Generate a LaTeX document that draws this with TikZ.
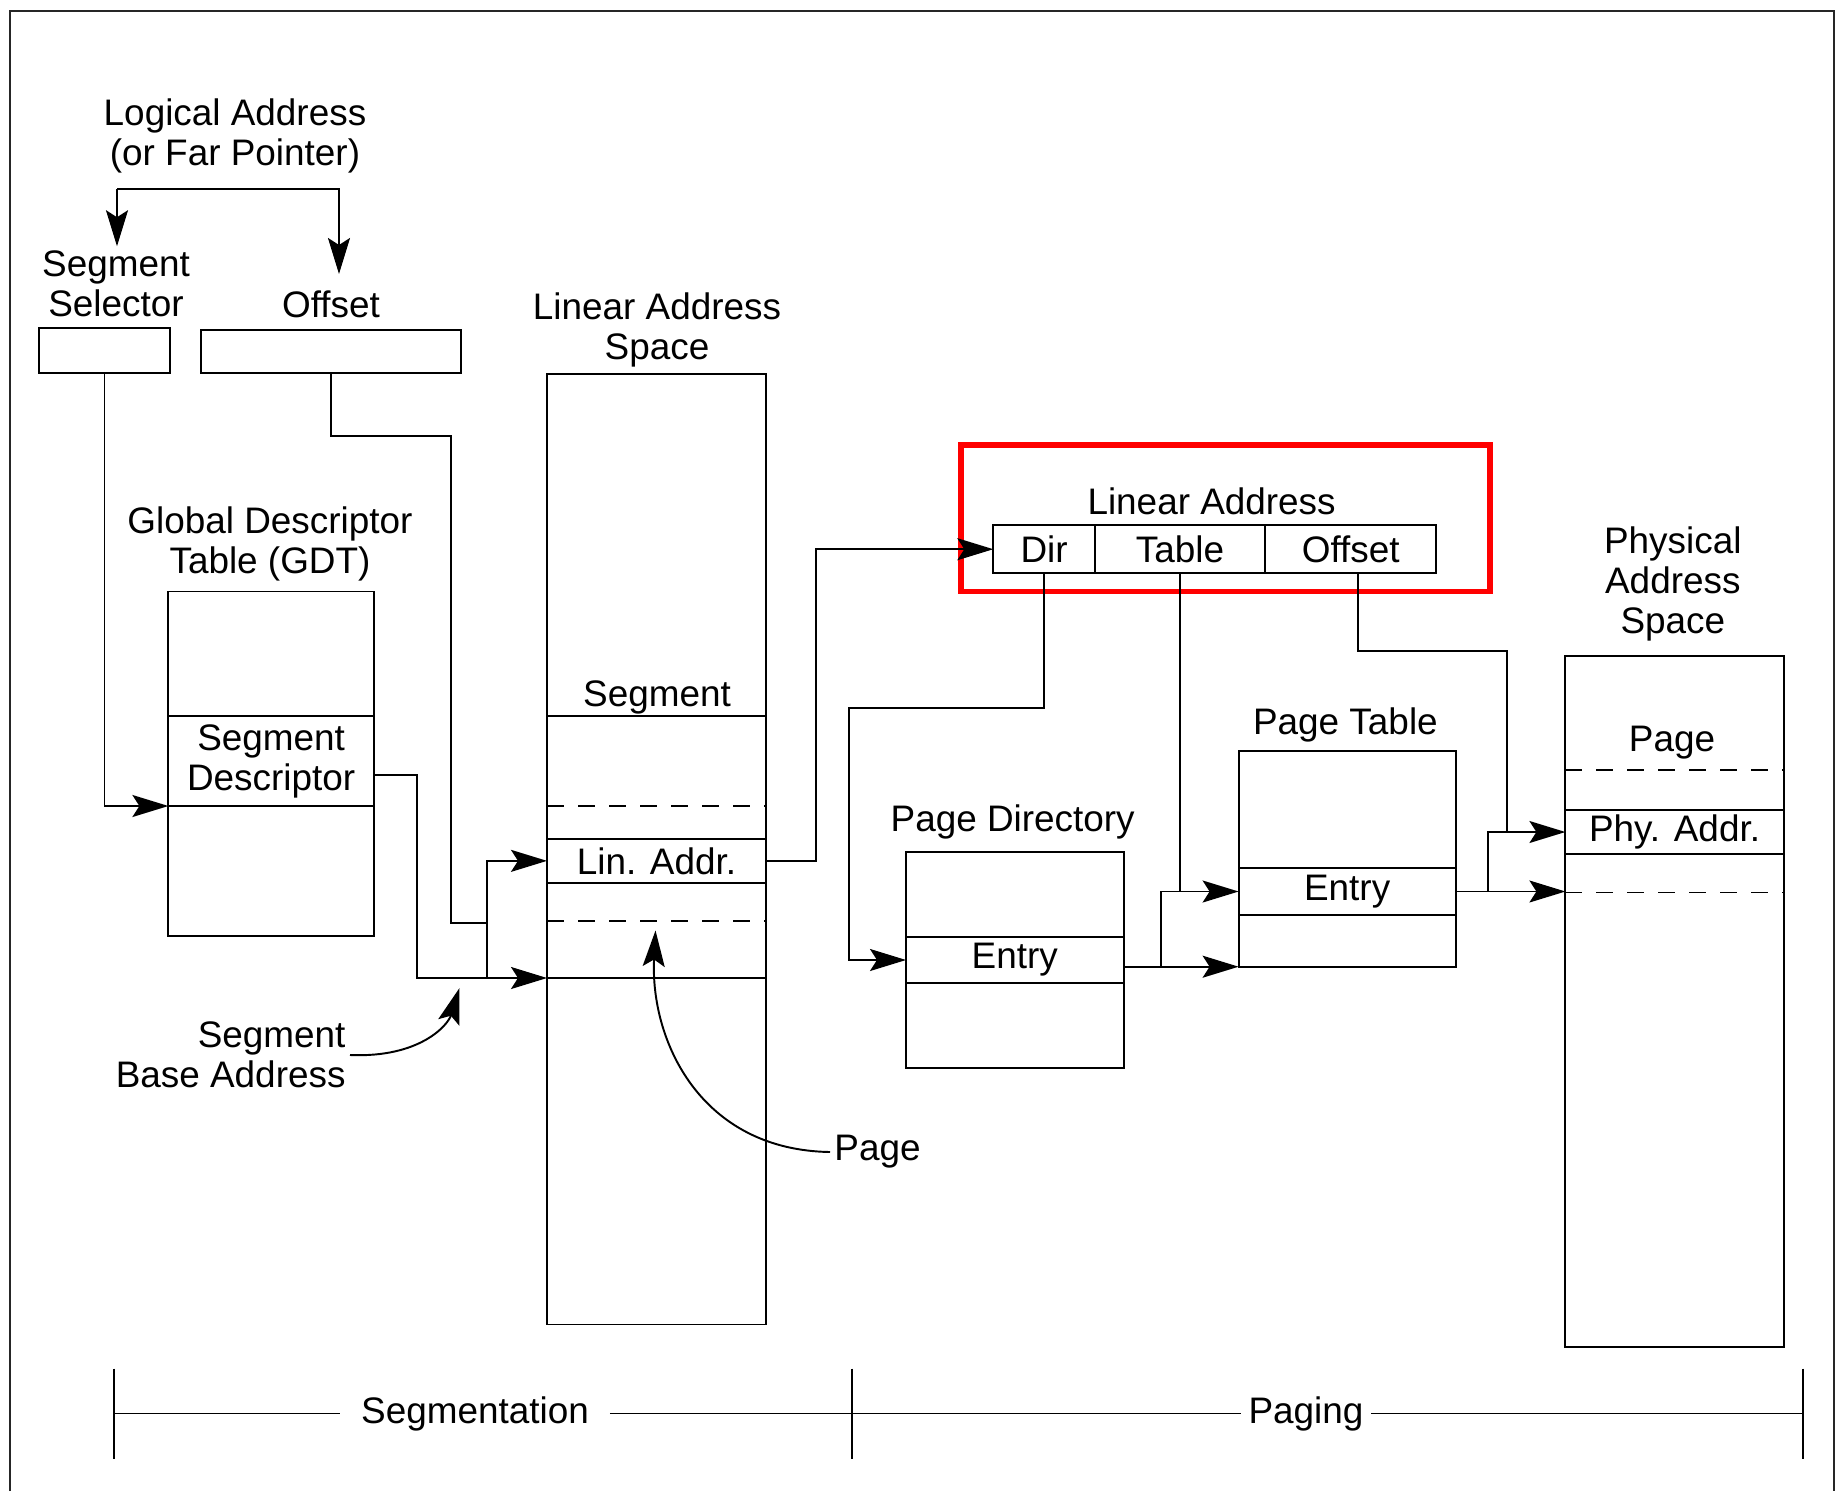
\documentclass[tikz,border=0pt]{standalone}
\usepackage{fontspec}
\setmainfont{Liberation Sans}
\usetikzlibrary{arrows.meta, positioning}

\begin{document}
\begin{tikzpicture}[x=0.1mm, y=-0.1mm, line width=0.55pt,
    font=\fontsize{10.5}{11.5}\selectfont,
    mem/.style={rectangle, draw, inner sep=0pt, outer sep=0pt, minimum width=21.9mm},
    lbl/.style={align=center, inner sep=1pt},
    arr/.style={-{Stealth[length=3.6mm, width=2.2mm, inset=0.7mm]}},
    dashrow/.style={dash pattern=on 1.7mm off 1.4mm},
    marker/.style={draw=red, line width=1.6pt}]

    \useasboundingbox (0,0) rectangle (1840,1491);
    \draw [black!85] (10,1491) -- (10,11) -- (1834,11) -- (1834,1491);

    % Nodes
    \node [lbl] (logaddr) at (235,136) {Logical Address\\(or Far Pointer)};
    \node [lbl] (selname) at (116,284) {Segment\\Selector};
    \node [lbl] (offname) at (331,304) {Offset};
    \node [mem, minimum width=13.1mm, minimum height=4.5mm] (selbox) at (104.5,350.5) {};
    \node [mem, minimum width=26mm, minimum height=4.3mm] (offbox) at (331,351.5) {};

    \node [lbl] (gdtname) at (270,544) {Global Descriptor\\Table (GDT)};
    \node [mem, minimum width=20.54mm, minimum height=34.45mm] (gdt) at (271.1,763.75) {};
    \node [mem, minimum width=20.54mm, minimum height=8.96mm, align=center] (segdesc) at (271.1,761.2) {Segment\\Descriptor};

    \node [lbl] (lasname) at (657,330) {Linear Address\\Space};
    \node [mem, minimum height=95.05mm] (las) at (656.5,849.25) {};
    \node [mem, minimum height=26.16mm] (seg) at (656.5,847.2) {};
    \node [lbl] (segname) at (657,697) {Segment};
    \node [mem, minimum height=4.43mm] (linaddr) at (656.5,860.85) {Lin. Addr.};
    \draw [dashrow] (547,806) -- (766,806);
    \draw [dashrow] (547,921) -- (766,921);

    \node [lbl] (laname) at (1211.6,501) {Linear Address};
    \node [mem, minimum width=10.16mm, minimum height=4.84mm] (dir) at (1044.1,549.2) {Dir};
    \node [mem, minimum width=17.01mm, minimum height=4.84mm, right=0pt of dir] (tbl) {Table};
    \node [mem, minimum width=17.14mm, minimum height=4.84mm, right=0pt of tbl] (off) {Offset};
    \draw [marker] (961,445) rectangle (1490,591.5);

    \node [lbl] (pdname) at (1012.7,821.5) {Page Directory};
    \node [mem, minimum width=21.76mm, minimum height=21.51mm] (pd) at (1014.8,960) {};
    \node [mem, minimum width=21.76mm, minimum height=4.6mm] (pdentry) at (pd.center) {Entry};

    \node [lbl] (ptname) at (1345.4,724.5) {Page Table};
    \node [mem, minimum width=21.71mm, minimum height=21.6mm] (pt) at (1347.15,858.7) {};
    \node [mem, minimum width=21.71mm, minimum height=4.76mm] (ptentry) at (1347.15,891.5) {Entry};

    \node [lbl] (phyname) at (1672.8,584) {Physical\\Address\\Space};
    \node [mem, minimum width=21.83mm, minimum height=69.17mm] (phy) at (1674.55,1001.45) {};
    \node [lbl] (pagename) at (1672,743) {Page};
    \node [mem, minimum width=21.83mm, minimum height=4.4mm] (phyaddr) at (1674.55,832) {Phy. Addr.};
    \draw [dashrow] (1565.4,769.7) -- (1783.7,769.7);
    \draw [dashrow] (1565.4,892.5) -- (1783.7,892.5);

    \node [lbl, align=right, anchor=east] (sbase) at (350,1055) {Segment\\Base Address};
    \node [lbl, anchor=west] (pagelbl) at (830,1152) {Page};

    \coordinate (brk) at (117,189);
    \coordinate (offbend) at (450.7,436);
    \coordinate (segjoin) at (487,923.4);
    \coordinate (dirbend) at (849,708);
    \coordinate (offbend2) at (1506.8,651);
    \coordinate (sbtip) at (459.5,988);
    \coordinate (pagetip) at (655.5,930.5);
    \coordinate (ptjoin) at ([xshift=-7.8mm]pt.south west);
    \coordinate (phyjoin) at ([xshift=3.2mm]ptentry.east);

    % Edges
    \draw [arr] (brk) -- (brk |- selname.north);
    \draw [arr] (brk) -| ([xshift=0.8mm, yshift=1.2mm]offname.north);
    \draw [arr] (selbox.south) |- (segdesc.south west);
    \draw (offbox.south) |- (offbend) |- (segjoin);
    \draw [arr] ([yshift=-1.35mm]segdesc.east) -| ([xshift=-13mm]seg.south west) -- (seg.south west);
    \draw [arr] ([xshift=-6mm]seg.south west) |- (linaddr.west);
    \draw [arr] (linaddr.east) -- ++(5mm,0) |- (dir.west);
    \draw [arr] (dir.south) |- (dirbend) |- (pdentry.west);
    \draw [arr] (tbl.south) |- (ptentry.west);
    \draw [arr] (pdentry.east |- pt.south west) -- (pt.south west);
    \draw [shorten >=5mm] (ptjoin) |- (ptentry.west);
    \draw [arr] ([xshift=0.75mm]off.south) |- (offbend2) |- (phyaddr.west);
    \draw [arr] (ptentry.east) -- (ptentry.east -| phy.west);
    \draw [shorten >=5mm] (phyjoin) |- (phyaddr.west);
    \draw [arr] (sbase.east) .. controls (420,1058) and (448,1025) .. (sbtip);
    \draw [arr] (pagelbl.west) .. controls (700,1150) and (650,1040) .. (pagetip);

    % Segmentation / Paging scale
    \coordinate (tl) at (114.4,1413.5);
    \coordinate (tm) at (852,1413.5);
    \coordinate (tr) at (1803,1413.5);
    \node [inner xsep=2mm] (segmentation) at (475,1413.5) {Segmentation};
    \node [inner xsep=0.7mm] (paging) at (1306,1413.5) {Paging};
    \draw (tl) -- (segmentation) -- (tm) -- (paging) -- (tr);
    \foreach \c in {tl,tm,tr}
        \draw ([yshift=4.5mm]\c) -- ([yshift=-4.5mm]\c);
\end{tikzpicture}
\end{document}
